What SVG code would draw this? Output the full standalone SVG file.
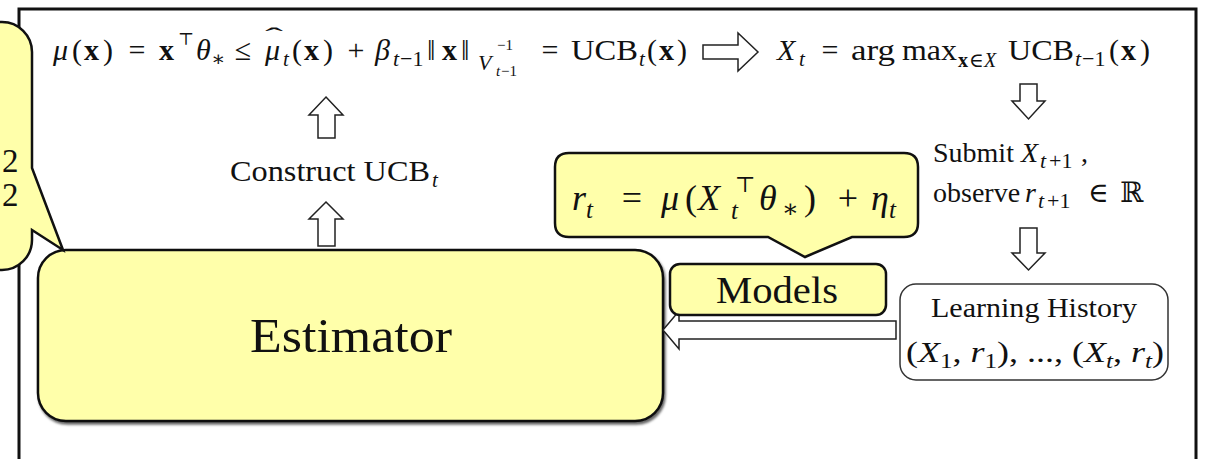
<svg xmlns="http://www.w3.org/2000/svg" width="1210" height="459" viewBox="0 0 1210 459">
<style>
.t{font-family:"Liberation Serif","DejaVu Serif",serif;fill:#111}
.i{font-style:italic}
.b{font-weight:bold}
.yel{fill:#ffffaa;stroke:#111;stroke-width:2.5}
.hol{fill:#fff;stroke:#222;stroke-width:1.5;stroke-linejoin:miter}
</style>
<defs>
<filter id="sh" x="-5%" y="-5%" width="110%" height="115%"><feDropShadow dx="1.5" dy="2.5" stdDeviation="1" flood-color="#000" flood-opacity="0.6"/></filter>
</defs>
<rect width="1210" height="459" fill="#fff"/>
<g id="frame"><rect x="19" y="9" width="1177" height="462" fill="none" stroke="#111" stroke-width="3"/></g>

<g id="formula-ucb" class="t" font-size="30">
<text y="60"><tspan x="53" class="i">μ</tspan><tspan x="72">(</tspan><tspan x="84" class="b">x</tspan><tspan x="103">)</tspan></text>
<text x="137" y="60" text-anchor="middle">=</text>
<text y="60"><tspan x="159" class="b">x</tspan><tspan x="178" y="45" font-size="17">⊤</tspan><tspan x="196" y="60" class="i">θ</tspan><tspan x="211" y="66" font-size="21">∗</tspan></text>
<text x="243" y="60" text-anchor="middle">≤</text>
<text y="60"><tspan x="265" class="i">μ</tspan><tspan x="265" y="44" font-size="24" textLength="18" lengthAdjust="spacingAndGlyphs">ˆ</tspan><tspan x="283" y="66" font-size="21" class="i">t</tspan><tspan x="292" y="60">(</tspan><tspan x="304" class="b">x</tspan><tspan x="323">)</tspan></text>
<text x="356" y="60" text-anchor="middle">+</text>
<text y="60"><tspan x="375" class="i">β</tspan><tspan x="393" y="66" font-size="22" class="i">t</tspan><tspan x="400" y="66" font-size="22">−1</tspan></text>
<text y="60"><tspan x="427">‖</tspan><tspan x="442" class="b">x</tspan><tspan x="461">‖</tspan></text>
<text y="70" font-size="22"><tspan x="478" class="i">V</tspan><tspan x="497" y="50" font-size="15">−1</tspan><tspan x="496" y="76" font-size="15" class="i">t</tspan><tspan x="501" y="76" font-size="15">−1</tspan></text>
<text x="550" y="60" text-anchor="middle">=</text>
<text y="60"><tspan x="571" textLength="67" lengthAdjust="spacingAndGlyphs">UCB</tspan><tspan x="639" y="66" font-size="21" class="i">t</tspan><tspan x="647" y="60">(</tspan><tspan x="659" class="b">x</tspan><tspan x="677">)</tspan></text>
</g>

<g id="formula-argmax" class="t" font-size="30">
<text y="60"><tspan x="777" class="i">X</tspan><tspan x="799" y="66" font-size="21" class="i">t</tspan></text>
<text x="830" y="60" text-anchor="middle">=</text>
<text x="851" y="60" textLength="44" lengthAdjust="spacingAndGlyphs">arg</text>
<text x="902" y="60" textLength="55" lengthAdjust="spacingAndGlyphs">max</text>
<text y="67" font-size="20"><tspan x="958" class="b">x</tspan><tspan x="969">∈</tspan><tspan x="984" class="i">X</tspan></text>
<text x="1008" y="60" textLength="66" lengthAdjust="spacingAndGlyphs">UCB</text>
<text y="66" font-size="22"><tspan x="1075" class="i">t</tspan><tspan x="1082">−1</tspan></text>
<text y="60"><tspan x="1109">(</tspan><tspan x="1121" class="b">x</tspan><tspan x="1140">)</tspan></text>
</g>

<g id="construct" class="t">
<text x="230" y="181" font-size="30" textLength="200" lengthAdjust="spacingAndGlyphs">Construct UCB</text>
<text x="432" y="187" font-size="21" class="i">t</text>
</g>

<g id="submit" class="t" font-size="28">
<text y="162"><tspan x="933">Submit</tspan><tspan x="1021" class="i">X</tspan><tspan x="1040" y="168" font-size="22" class="i">t</tspan><tspan x="1049" y="168" font-size="22">+1</tspan><tspan x="1081" y="162">,</tspan></text>
<text y="202"><tspan x="933">observe</tspan><tspan x="1025" class="i">r</tspan><tspan x="1038" y="208" font-size="22" class="i">t</tspan><tspan x="1047" y="208" font-size="22">+1</tspan><tspan x="1088" y="202">∈</tspan><tspan x="1120">ℝ</tspan></text>
</g>

<g id="connectors">
<polygon class="hol" points="703,45 738,45 738,33 758,52 738,71 738,59 703,59"/>
<polygon class="hol" points="1020,84 1037,84 1037,101 1045,101 1028.5,119 1012,101 1020,101"/>
<polygon class="hol" points="1020,228 1037,228 1037,253 1045,253 1028.5,270 1012,253 1020,253"/>
<polygon class="hol" points="326,97 343,115 335,115 335,138 318,138 318,115 309,115"/>
<polygon class="hol" points="326,202 343,219 335,219 335,246 318,246 318,219 309,219"/>
</g>

<g id="estimator">
<rect x="38" y="250" width="625" height="171" rx="28" class="yel" filter="url(#sh)"/>
<text x="351" y="352" font-size="49" text-anchor="middle" class="t" textLength="202" lengthAdjust="spacingAndGlyphs">Estimator</text>
</g>

<g id="history-arrow">
<polygon class="hol" points="896,321 679,321 679,311 663,330 679,349 679,339 896,339"/>
</g>

<g id="models">
<rect x="670" y="264" width="216" height="51" rx="10" class="yel"/>
<text x="777" y="303" font-size="37" text-anchor="middle" class="t" textLength="122" lengthAdjust="spacingAndGlyphs">Models</text>
</g>

<g id="reward-model">
<path class="yel" d="M569,153 H904 Q918,153 918,167 V223 Q918,237 904,237 H852 L805,257 L768,237 H569 Q555,237 555,223 V167 Q555,153 569,153 Z"/>
<g class="t" font-size="36">
<text y="210"><tspan x="572" class="i">r</tspan><tspan x="586" y="218" font-size="25" class="i">t</tspan></text>
<text x="632" y="210" text-anchor="middle">=</text>
<text y="210"><tspan x="661" class="i">μ</tspan><tspan x="685">(</tspan><tspan x="698" class="i">X</tspan><tspan x="735" y="192" font-size="22">⊤</tspan><tspan x="731" y="219" font-size="25" class="i">t</tspan><tspan x="759" y="210" class="i">θ</tspan><tspan x="782" y="217" font-size="25">∗</tspan><tspan x="804" y="210">)</tspan></text>
<text x="848" y="210" text-anchor="middle">+</text>
<text y="210"><tspan x="871" class="i">η</tspan><tspan x="889" y="218" font-size="25" class="i">t</tspan></text>
</g>
</g>

<g id="history">
<rect x="900" y="284" width="268" height="96" rx="16" fill="#fff" stroke="#333" stroke-width="1.5"/>
<text x="1034" y="317" font-size="28" text-anchor="middle" class="t" textLength="206" lengthAdjust="spacingAndGlyphs">Learning History</text>
<text x="906" y="362" font-size="30" class="t" textLength="258" lengthAdjust="spacingAndGlyphs">(<tspan class="i">X</tspan><tspan font-size="21" dy="6">1</tspan><tspan dy="-6">, </tspan><tspan class="i">r</tspan><tspan font-size="21" dy="6">1</tspan><tspan dy="-6">), ..., (</tspan><tspan class="i">X</tspan><tspan font-size="21" dy="6" class="i">t</tspan><tspan dy="-6">, </tspan><tspan class="i">r</tspan><tspan font-size="21" dy="6" class="i">t</tspan><tspan dy="-6">)</tspan></text>
</g>

<g id="left-callout">
<path class="yel" d="M-10,22 H2 A30,30 0 0 1 32,52 V168 L63,250 L32,230 V240 A30,30 0 0 1 2,270 H-10 Z"/>
<text x="2" y="172" font-size="33" class="t">2</text>
<text x="2" y="206" font-size="33" class="t">2</text>
</g>
</svg>
